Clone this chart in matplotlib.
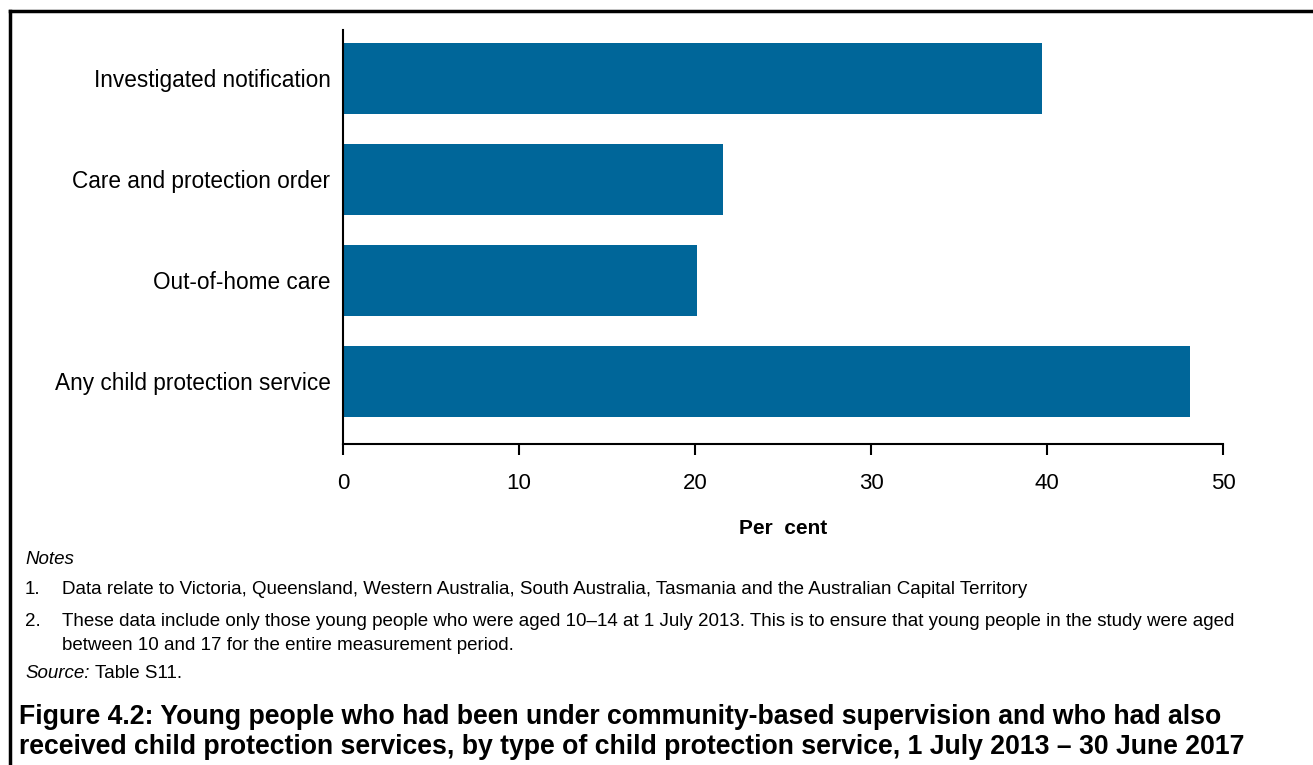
import matplotlib
matplotlib.use("Agg")
import matplotlib.pyplot as plt
from matplotlib.lines import Line2D

categories = ["Investigated notification", "Care and protection order",
              "Out-of-home care", "Any child protection service"]
values = [39.7, 21.6, 20.1, 48.1]
xticks = [0, 10, 20, 30, 40, 50]

plt.rcParams['font.family'] = ['Liberation Sans', 'DejaVu Sans']

W, H = 1313, 765
fig = plt.figure(figsize=(W / 100, H / 100), dpi=100)

def fx(px):
    return px / W

def fy(py):
    return 1 - py / H

ax = fig.add_axes([fx(343), fy(444), fx(1223) - fx(343), fy(30) - fy(444)])
n = len(categories)
ypos = list(range(n - 1, -1, -1))
ax.barh(ypos, values, height=0.70, color="#006699")
ax.set_xlim(0, 50)
ax.set_ylim(-0.62, n - 1 + 0.48)
ax.set_xticks(xticks)
ax.set_xticklabels([str(t) for t in xticks], fontsize=16)
ax.set_yticks(ypos)
ax.set_yticklabels(categories, fontsize=16.3)
ax.tick_params(axis='y', length=0, pad=9)
ax.tick_params(axis='x', length=8, width=1.5, direction='out', pad=13)
for s in ['top', 'right']:
    ax.spines[s].set_visible(False)
for s in ['left', 'bottom']:
    ax.spines[s].set_linewidth(1.5)
ax.spines['left'].set_bounds(-0.62, n - 1 + 0.48)
ax.set_xlabel("Per  cent", fontsize=15, fontweight='bold', labelpad=18)

# frame (top and left only)
fig.add_artist(Line2D([fx(10), 1.0], [fy(11), fy(11)], color='black', lw=2.5))
fig.add_artist(Line2D([fx(10), fx(10)], [fy(11), 0.0], color='black', lw=2.5))

fs = 13.5
x0 = 25
x1 = 62
fig.text(fx(x0), fy(559), "Notes", fontsize=fs, style='italic', va='center')
fig.text(fx(x0), fy(590), "1.", fontsize=fs, va='center')
fig.text(fx(x1), fy(590), "Data relate to Victoria, Queensland, Western Australia, South Australia, Tasmania and the Australian Capital Territory",
         fontsize=fs, va='center')
fig.text(fx(x0), fy(622), "2.", fontsize=fs, va='center')
fig.text(fx(x1), fy(622), "These data include only those young people who were aged 10\u201314 at 1 July 2013. This is to ensure that young people in the study were aged",
         fontsize=fs, va='center')
fig.text(fx(x1), fy(645), "between 10 and 17 for the entire measurement period.", fontsize=fs, va='center')
fig.text(fx(x0), fy(673), "Source:", fontsize=fs, style='italic', va='center')
fig.text(fx(x0 + 70), fy(673), "Table S11.", fontsize=fs, va='center')

fig.text(fx(19), fy(717), "Figure 4.2: Young people who had been under community-based supervision and who had also",
         fontsize=19.2, fontweight='bold', va='center')
fig.text(fx(19), fy(747), "received child protection services, by type of child protection service, 1 July 2013 \u2013 30 June 2017",
         fontsize=19.2, fontweight='bold', va='center')

fig.savefig("out.png", dpi=100)
